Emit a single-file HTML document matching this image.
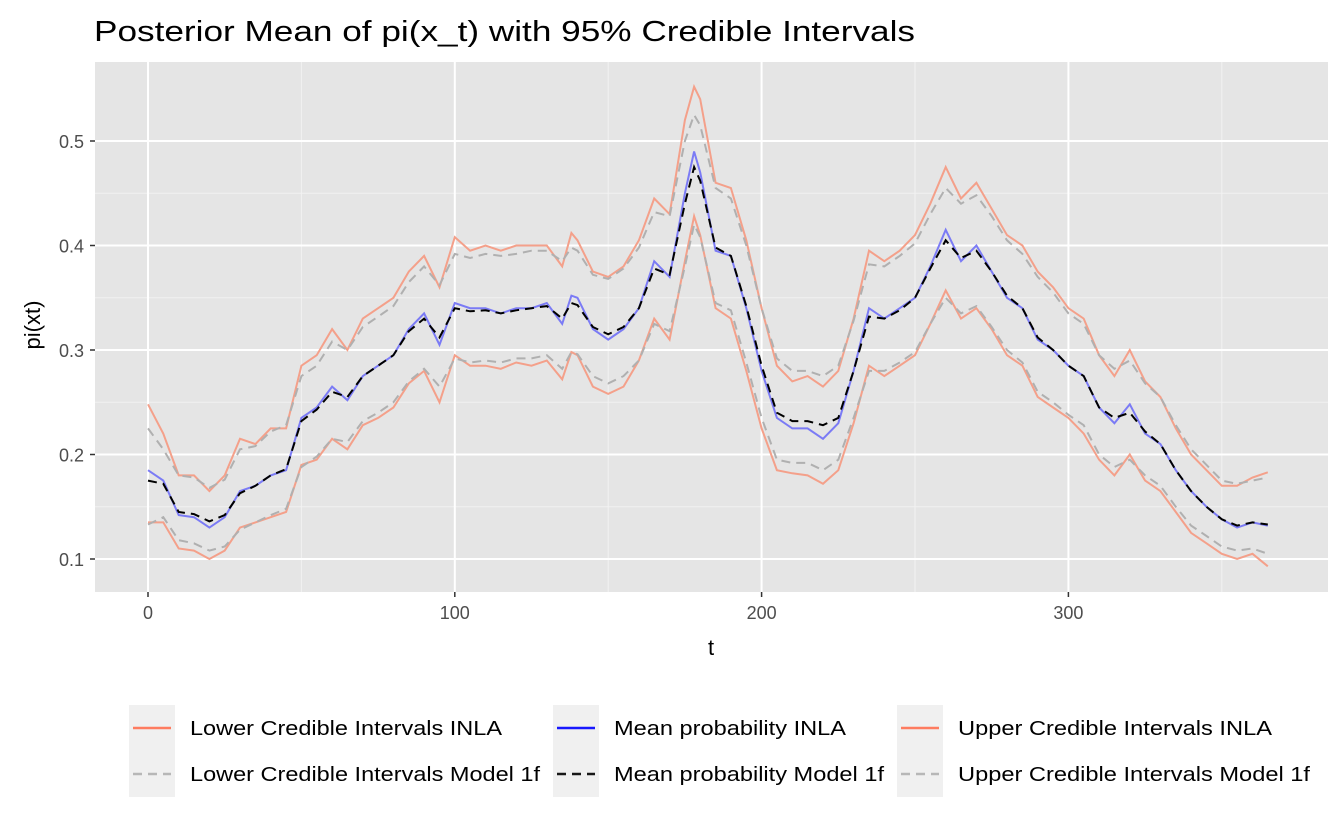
<!DOCTYPE html>
<html><head><meta charset="utf-8"><style>
body{margin:0;background:#fff;font-family:"Liberation Sans",Arial,sans-serif}
svg text{font-family:"Liberation Sans",Arial,sans-serif}
</style></head><body>
<svg id="chart" width="1342" height="826" xmlns="http://www.w3.org/2000/svg">
<text x="94" y="41" font-size="29" fill="#000" textLength="821" lengthAdjust="spacingAndGlyphs">Posterior Mean of pi(x_t) with 95% Credible Intervals</text>
<rect x="95" y="62" width="1233" height="530" fill="#e5e5e5"/>
<g id="grid"></g>
<g id="series"></g>
<g id="axes"></g>
<text x="711" y="655" font-size="22" text-anchor="middle">t</text>
<text transform="translate(40,325) rotate(-90)" font-size="22" text-anchor="middle">pi(xt)</text>
<g id="legend"></g>
</svg>
<script>
const ts=[0,5,10,15,20,25,30,35,40,45,50,55,60,65,70,75,80,85,90,95,100,105,110,115,120,125,130,135,138,140,145,150,155,160,165,170,175,178,180,185,190,195,200,205,210,215,220,225,230,235,240,245,250,255,260,265,270,275,280,285,290,295,300,305,310,315,320,325,330,335,340,345,350,355,360,365];
const meanINLA=[0.185,0.175,0.142,0.140,0.130,0.140,0.165,0.170,0.180,0.185,0.235,0.245,0.265,0.252,0.275,0.285,0.295,0.320,0.335,0.305,0.345,0.340,0.340,0.335,0.340,0.340,0.345,0.325,0.352,0.350,0.320,0.310,0.320,0.340,0.385,0.370,0.450,0.490,0.470,0.395,0.390,0.340,0.280,0.235,0.225,0.225,0.215,0.230,0.280,0.340,0.330,0.340,0.350,0.380,0.415,0.385,0.400,0.375,0.350,0.340,0.310,0.300,0.285,0.275,0.245,0.230,0.248,0.220,0.210,0.185,0.165,0.150,0.138,0.130,0.135,0.132];
const mean1f=[0.175,0.172,0.145,0.143,0.136,0.142,0.163,0.170,0.180,0.186,0.232,0.243,0.260,0.255,0.275,0.285,0.295,0.318,0.330,0.312,0.340,0.337,0.338,0.335,0.338,0.340,0.342,0.330,0.345,0.343,0.322,0.315,0.322,0.340,0.378,0.372,0.440,0.475,0.462,0.398,0.390,0.342,0.285,0.240,0.232,0.232,0.228,0.235,0.280,0.332,0.330,0.338,0.350,0.378,0.405,0.388,0.395,0.375,0.352,0.340,0.312,0.300,0.285,0.275,0.245,0.235,0.240,0.222,0.210,0.185,0.165,0.150,0.138,0.132,0.135,0.133];
const upperINLA=[0.248,0.220,0.180,0.180,0.165,0.180,0.215,0.210,0.225,0.225,0.285,0.295,0.320,0.300,0.330,0.340,0.350,0.375,0.390,0.360,0.408,0.395,0.400,0.395,0.400,0.400,0.400,0.380,0.412,0.405,0.375,0.370,0.380,0.405,0.445,0.430,0.520,0.552,0.540,0.460,0.455,0.405,0.340,0.285,0.270,0.275,0.265,0.280,0.330,0.395,0.385,0.395,0.410,0.440,0.475,0.445,0.460,0.435,0.410,0.400,0.375,0.360,0.340,0.330,0.295,0.275,0.300,0.270,0.255,0.225,0.200,0.185,0.170,0.170,0.178,0.183];
const lowerINLA=[0.135,0.135,0.110,0.108,0.100,0.108,0.130,0.135,0.140,0.145,0.190,0.195,0.215,0.205,0.228,0.235,0.245,0.268,0.280,0.250,0.295,0.285,0.285,0.282,0.288,0.285,0.290,0.272,0.298,0.295,0.265,0.258,0.265,0.290,0.330,0.310,0.385,0.428,0.410,0.340,0.330,0.280,0.225,0.185,0.182,0.180,0.172,0.185,0.230,0.285,0.275,0.285,0.295,0.325,0.357,0.330,0.340,0.320,0.295,0.285,0.255,0.245,0.235,0.220,0.195,0.180,0.200,0.175,0.165,0.145,0.125,0.115,0.105,0.100,0.105,0.093];
const upper1f=[0.225,0.205,0.180,0.178,0.168,0.176,0.205,0.208,0.222,0.228,0.275,0.285,0.308,0.300,0.322,0.332,0.342,0.365,0.380,0.362,0.392,0.388,0.392,0.390,0.392,0.395,0.395,0.385,0.398,0.395,0.372,0.368,0.378,0.398,0.432,0.428,0.500,0.525,0.515,0.455,0.445,0.400,0.340,0.292,0.280,0.280,0.275,0.285,0.328,0.382,0.380,0.390,0.402,0.430,0.455,0.440,0.448,0.428,0.405,0.392,0.370,0.355,0.335,0.325,0.295,0.282,0.290,0.268,0.255,0.228,0.205,0.190,0.175,0.172,0.175,0.178];
const lower1f=[0.133,0.140,0.118,0.115,0.108,0.112,0.128,0.135,0.142,0.148,0.188,0.198,0.215,0.212,0.232,0.240,0.250,0.270,0.282,0.265,0.292,0.288,0.290,0.288,0.292,0.292,0.295,0.282,0.298,0.296,0.275,0.268,0.275,0.290,0.325,0.318,0.380,0.420,0.408,0.345,0.338,0.288,0.235,0.195,0.192,0.192,0.185,0.195,0.235,0.280,0.280,0.288,0.298,0.325,0.350,0.335,0.342,0.322,0.300,0.288,0.260,0.250,0.238,0.228,0.200,0.188,0.195,0.180,0.170,0.150,0.132,0.122,0.112,0.108,0.110,0.105];
const xTicks=[0,100,200,300];
const yTicks=[0.1,0.2,0.3,0.4,0.5];
const NS="http://www.w3.org/2000/svg";
const X=t=>148+t*3.068;
const Y=v=>141+(0.5-v)*1045;
function mk(tag,attrs,parent){const e=document.createElementNS(NS,tag);for(const k in attrs)e.setAttribute(k,attrs[k]);parent.appendChild(e);return e;}
const grid=document.getElementById('grid'),axes=document.getElementById('axes'),ser=document.getElementById('series');
[50,150,250,350].forEach(t=>{const l=mk('line',{x1:X(t),x2:X(t),y1:62,y2:592,stroke:'#f2f2f2','stroke-width':1},grid);

});
[0.15,0.25,0.35,0.45].forEach(v=>{const l=mk('line',{x1:95,x2:1328,y1:Y(v),y2:Y(v),stroke:'#f2f2f2','stroke-width':1},grid);

});
xTicks.forEach(t=>{const l=mk('line',{x1:X(t),x2:X(t),y1:62,y2:592,stroke:'#fff','stroke-width':2},grid);


const tk=mk('line',{x1:X(t),x2:X(t),y1:592,y2:597,stroke:'#333','stroke-width':1.5},axes);


const tx=mk('text',{x:X(t),y:619,'font-size':18,fill:'#4d4d4d','text-anchor':'middle'},axes);tx.textContent=t;

});
yTicks.forEach(v=>{const l=mk('line',{x1:95,x2:1328,y1:Y(v),y2:Y(v),stroke:'#fff','stroke-width':2},grid);


const tk=mk('line',{x1:90,x2:95,y1:Y(v),y2:Y(v),stroke:'#333','stroke-width':1.5},axes);


const tx=mk('text',{x:84,y:Y(v)+7,'font-size':18,fill:'#4d4d4d','text-anchor':'end'},axes);tx.textContent=v.toFixed(1);

});
function line(vals,color,dash,name,op){const d=vals.map((v,i)=>(i?'L':'M')+X(ts[i]).toFixed(1)+','+Y(v).toFixed(1)).join('');
const p=mk('path',{d:d,fill:'none',stroke:color,'stroke-width':2,'stroke-dasharray':dash,'stroke-opacity':op},ser);

}
line(upperINLA,'#f4a08a','none','upper-ci-inla-line',1);
line(lowerINLA,'#f4a08a','none','lower-ci-inla-line',1);
line(upper1f,'#b0b0b0','9 6','upper-ci-model1f-line',1);
line(lower1f,'#b0b0b0','9 6','lower-ci-model1f-line',1);
line(meanINLA,'#7b7bf5','none','mean-inla-line',1);
line(mean1f,'#000','9 6','mean-model1f-line',1);
const leg=document.getElementById('legend');
const items=[[129,'#ff6f50','none','Lower Credible Intervals INLA',0,312],[129,'#b0b0b0','9 6','Lower Credible Intervals Model 1f',1,350],[553,'#0000ff','none','Mean probability INLA',0,232],[553,'#000','9 6','Mean probability Model 1f',1,270],[897,'#ff6f50','none','Upper Credible Intervals INLA',0,314],[897,'#b0b0b0','9 6','Upper Credible Intervals Model 1f',1,352]];
items.forEach(([x,c,dash,label,row,w])=>{const y0=705+row*46;
const r=mk('rect',{x:x,y:y0,width:46,height:46,fill:'#f0f0f0'},leg);


const l=mk('line',{x1:x+4,x2:x+42,y1:y0+23,y2:y0+23,stroke:c,'stroke-width':2.5,'stroke-dasharray':dash,'stroke-opacity':0.9},leg);


const t=mk('text',{x:x+61,y:y0+30,'font-size':20,fill:'#000',textLength:w,lengthAdjust:'spacingAndGlyphs'},leg);t.textContent=label;

});
</script>
</body></html>
